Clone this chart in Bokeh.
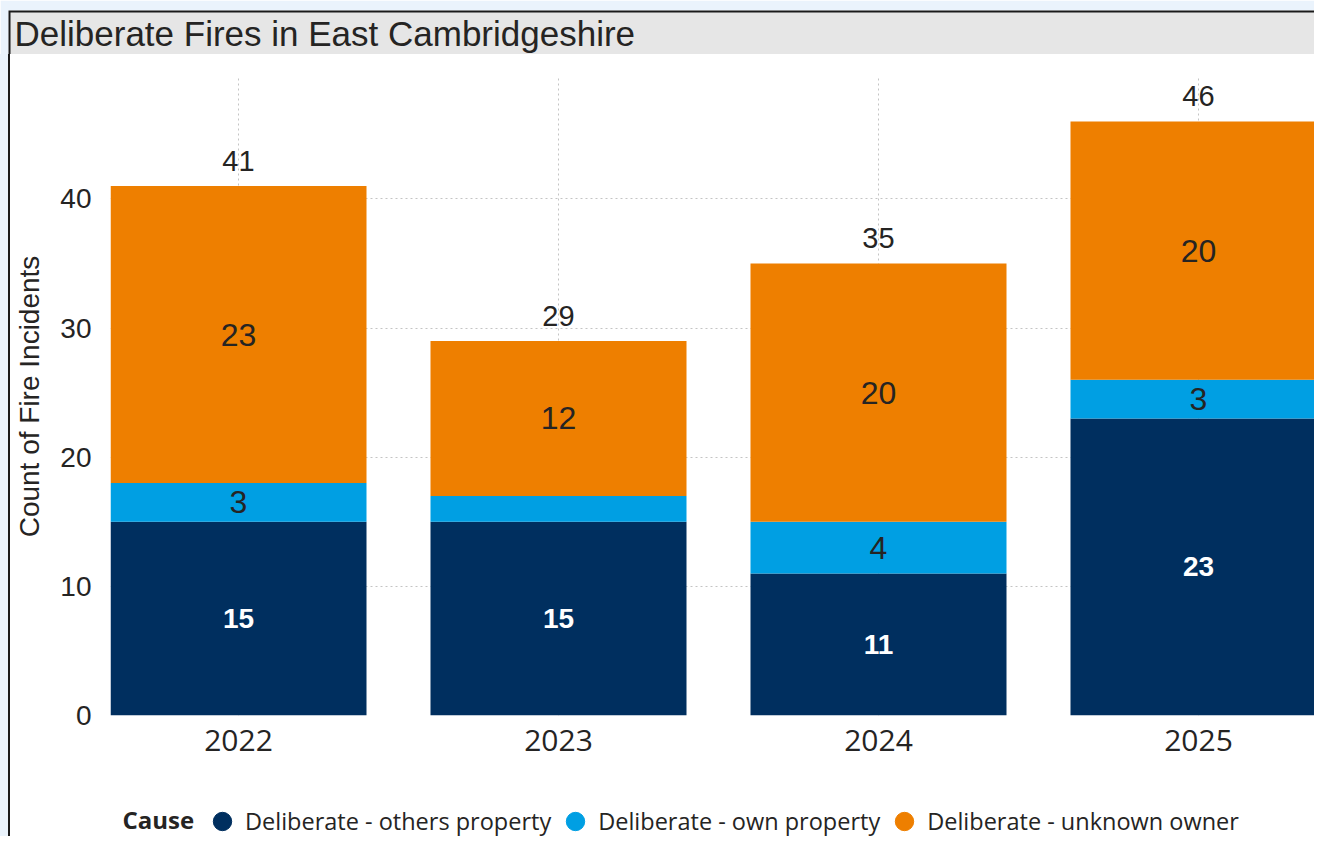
import numpy as np
from bokeh.plotting import figure
from bokeh.layouts import column, row
from bokeh.models import (ColumnDataSource, Range1d, FixedTicker, Legend, LegendItem,
                          Label, BoxAnnotation, Div)
from bokeh.core.properties import value
from bokeh.embed import file_html
from bokeh.resources import INLINE

# ---- data ----
years = ["2022", "2023", "2024", "2025"]
others_property = [15, 15, 11, 23]
own_property = [3, 2, 4, 3]
unknown_owner = [23, 12, 20, 20]
causes = ["Deliberate - others property", "Deliberate - own property",
          "Deliberate - unknown owner"]
y_ticks = [0, 10, 20, 30, 40]
title_text = "Deliberate Fires in East Cambridgeshire"
y_label = "Count of Fire Incidents"
legend_title = "Cause"

# ---- styles ----
colors = ["#002f5f", "#009fe3", "#ee7f00"]
label_colors = ["#ffffff", "#252423", "#252423"]
label_styles = ["bold", "normal", "normal"]
label_sizes = ["28px", "32px", "32px"]
TXT = "#252423"
PAGE_BG = "#eaf3fc"
EDGE = "#1a1a1a"

series = [others_property, own_property, unknown_owner]
x = list(range(len(years)))

# ---- title bar (pixel-scaled ranges) ----
head = figure(width=1314, height=54, x_range=Range1d(0, 1306), y_range=Range1d(0, 44),
              x_axis_type=None, y_axis_type=None, min_border_left=8, min_border_top=10,
              min_border_right=0, min_border_bottom=0, title=None,
              toolbar_location=None, output_backend="svg",
              background_fill_color=EDGE, border_fill_color=PAGE_BG,
              outline_line_color=None)
head.add_layout(BoxAnnotation(left=2, top=42, fill_color="#e6e6e6", fill_alpha=1,
                              line_color=None))
head.add_layout(Label(x=6, y=21, text=title_text, text_font="Liberation Sans",
                      text_font_size="35px", text_baseline="middle", text_color=TXT))

# ---- left page strip + border ----
strip = Div(text="", width=10, height=782, margin=0,
            styles={"background": "linear-gradient(to right, %s 0px, %s 8px, %s 8px, %s 10px)"
                    % (PAGE_BG, PAGE_BG, EDGE, EDGE)})

# ---- main chart ----
p = figure(width=1304, height=716, output_backend="svg", toolbar_location=None,
           x_range=Range1d(-0.4, 3.3625), y_range=Range1d(0, 49.4),
           min_border_left=100, min_border_right=0, min_border_top=23,
           min_border_bottom=55, border_fill_color="white",
           background_fill_color="white", outline_line_color=None, title=None)

bottom = np.zeros(len(years))
for vals, col, lc, ls, lz in zip(series, colors, label_colors, label_styles, label_sizes):
    v = np.array(vals, dtype=float)
    src = ColumnDataSource(dict(
        x=x, bottom=bottom, top=bottom + v, mid=bottom + v / 2,
        label=[str(int(t)) if t >= 3 else "" for t in v]))
    p.vbar(x="x", bottom="bottom", top="top", width=0.8, source=src,
           fill_color=col, line_color=None)
    p.text(x="x", y="mid", text="label", source=src, text_align="center",
           text_baseline="middle", text_color=lc, text_font=value("Liberation Sans"),
           text_font_size=lz, text_font_style=ls)
    bottom = bottom + v

tot_src = ColumnDataSource(dict(x=x, y=bottom, label=[str(int(t)) for t in bottom]))
p.text(x="x", y="y", text="label", source=tot_src, text_align="center",
       text_baseline="middle", y_offset=-25, text_color=TXT,
       text_font=value("Liberation Sans"), text_font_size="29px")

# axes
p.xaxis.ticker = FixedTicker(ticks=x)
p.xaxis.major_label_overrides = {i: yr for i, yr in zip(x, years)}
p.yaxis.ticker = FixedTicker(ticks=y_ticks)
for ax in (p.xaxis[0], p.yaxis[0]):
    ax.axis_line_color = None
    ax.major_tick_line_color = None
    ax.minor_tick_line_color = None
    ax.major_label_text_color = TXT
p.xaxis.major_label_text_font = "Open Sans"
p.xaxis.major_label_text_font_size = "30px"
p.xaxis.major_label_standoff = 8
p.yaxis.major_label_text_font = "Liberation Sans"
p.yaxis.major_label_text_font_size = "28px"
p.yaxis.major_label_standoff = 13
p.yaxis.axis_label = y_label
p.yaxis.axis_label_text_font = "Liberation Sans"
p.yaxis.axis_label_text_font_size = "28px"
p.yaxis.axis_label_text_font_style = "normal"
p.yaxis.axis_label_text_color = TXT
p.yaxis.axis_label_standoff = 12

# grids
p.xgrid.ticker = FixedTicker(ticks=x)
p.ygrid.ticker = FixedTicker(ticks=y_ticks)
for g in (p.xgrid[0], p.ygrid[0]):
    g.grid_line_color = "#c4c4c4"
    g.grid_line_dash = "2 3"
    g.grid_line_width = 1

# ---- legend strip (pixel-scaled ranges, frame aligned with the chart's) ----
lf = figure(width=1304, height=66, x_range=Range1d(0, 1204), y_range=Range1d(0, 66),
            x_axis_type=None, y_axis_type=None, min_border_left=100,
            min_border_right=0, min_border_top=0, min_border_bottom=0,
            title=None, toolbar_location=None, output_backend="svg",
            background_fill_color="white", border_fill_color="white",
            outline_line_color=None)
lf.add_layout(Label(x=12, y=17, text=legend_title, text_font="Open Sans",
                    text_font_style="bold", text_font_size="24px",
                    text_baseline="middle", text_color=TXT))
items = []
for col, name in zip(colors, causes):
    r = lf.scatter(x=[np.nan], y=[np.nan], marker="circle", size=18,
                   fill_color=col, line_color=col)
    items.append(LegendItem(label=name, renderers=[r]))
legend = Legend(items=items, orientation="horizontal", location=(89, -8),
                label_text_font="Open Sans", label_text_font_size="23.5px",
                label_text_color=TXT, glyph_width=46, glyph_height=46,
                label_standoff=-16, spacing=1, padding=0, margin=0,
                background_fill_alpha=0, border_line_color=None)
lf.add_layout(legend, "center")

layout = column(head, row(strip, column(p, lf, spacing=0), spacing=0), spacing=0)

open("out.html", "w").write(file_html(layout, INLINE))
